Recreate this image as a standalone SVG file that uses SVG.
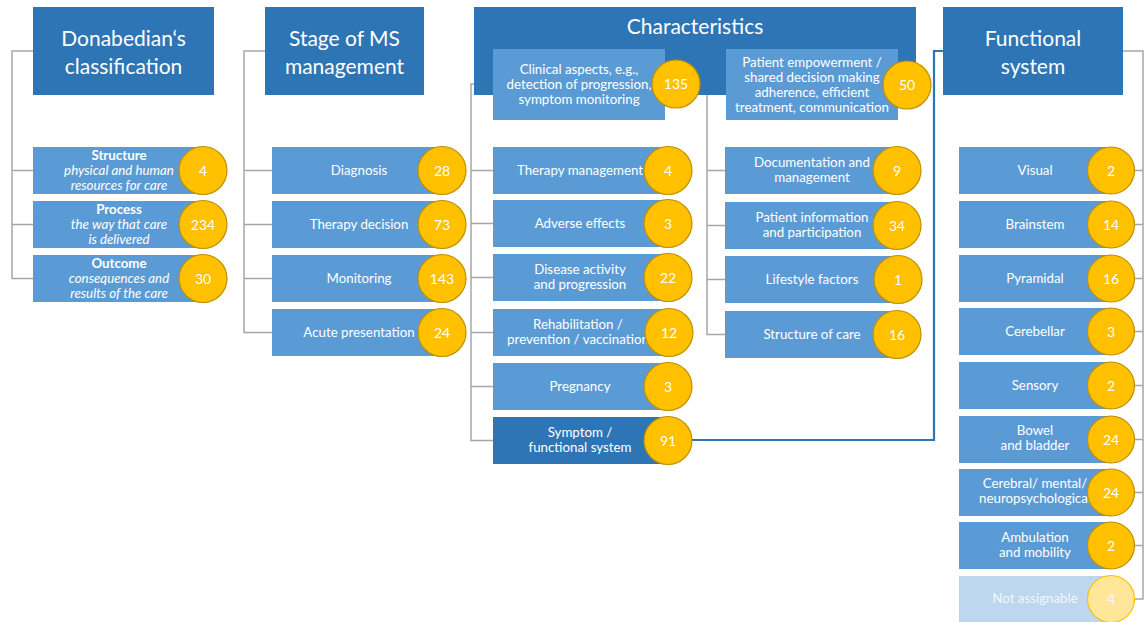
<svg xmlns="http://www.w3.org/2000/svg" width="1148" height="622" viewBox="0 0 1148 622">
  <style>
    .hdr { fill: #2E75B6; }
    .box { fill: #5B9BD5; }
    .box-dark { fill: #2E75B6; }
    .box-faint { fill: #BDD7EE; }
    .num { fill: #FFC000; stroke: #BF9000; stroke-width: 1.2; }
    .num-faint { fill: #FFE699; stroke: #FFC000; stroke-width: 1.2; }
    .conn { fill: none; stroke: #A6A6A6; stroke-width: 1.5; }
    .link { fill: none; stroke: #2E75B6; stroke-width: 2.2; }
    text { font-family: Lato, "Open Sans", "Liberation Sans", sans-serif; fill: #FFFFFF; text-anchor: middle; }
    .h { font-size: 21px; }
    .t { font-size: 13.3px; }
    .n { font-size: 14px; }
    .b { font-weight: bold; }
    .i { font-style: italic; }
    .faint { fill: #F2F7FC; }
  </style>

  <!-- connectors -->
  <g id="connectors">
    <!-- Donabedian tree -->
    <path class="conn" d="M33,51 H12 V278.5 H33 M12,170.5 H33 M12,224.5 H33"/>
    <!-- Stage tree -->
    <path class="conn" d="M265,51 H244 V332.5 H272 M244,170.5 H272 M244,224.5 H272 M244,278.5 H272"/>
    <!-- Clinical aspects tree -->
    <path class="conn" d="M493,84 H471 V440.5 H493 M471,170.5 H493 M471,223.5 H493 M471,277.5 H493 M471,332.5 H493 M471,386.5 H493"/>
    <!-- Patient empowerment tree -->
    <path class="conn" d="M726,84 H707 V334.5 H725 M707,170.5 H725 M707,225.5 H725 M707,279.5 H725"/>
    <!-- Functional system tree -->
    <path class="conn" d="M1123,51 H1143 V599 H1110 M1143,170.5 H1110 M1143,224.5 H1110 M1143,278.5 H1110 M1143,331.5 H1110 M1143,385.5 H1110 M1143,439.5 H1110 M1143,492.5 H1110 M1143,545.5 H1110"/>
    <!-- Symptom to functional system -->
    <path class="link" d="M690,440 H934 V51 H943"/>
  </g>

  <!-- column 1: Donabedian -->
  <g id="donabedian">
    <rect class="hdr" x="33" y="7" width="181" height="88"/>
    <text class="h" x="123.5" y="46">Donabedian‘s</text>
    <text class="h" x="123.5" y="74">classification</text>
  </g>
  <g id="structure">
    <rect class="box" x="33" y="147" width="172" height="47"/>
    <text class="t b" x="119" y="159.5">Structure</text>
    <text class="t i" x="119" y="174.5">physical and human</text>
    <text class="t i" x="119" y="189.5">resources for care</text>
    <circle class="num" cx="203" cy="170.5" r="24"/>
    <text class="n" x="203" y="175.5">4</text>
  </g>
  <g id="process">
    <rect class="box" x="33" y="201" width="172" height="47"/>
    <text class="t b" x="119" y="213.5">Process</text>
    <text class="t i" x="119" y="228.5">the way that care</text>
    <text class="t i" x="119" y="243.5">is delivered</text>
    <circle class="num" cx="203" cy="224.5" r="24"/>
    <text class="n" x="203" y="229.5">234</text>
  </g>
  <g id="outcome">
    <rect class="box" x="33" y="255" width="172" height="47"/>
    <text class="t b" x="119" y="267.5">Outcome</text>
    <text class="t i" x="119" y="282.5">consequences and</text>
    <text class="t i" x="119" y="297.5">results of the care</text>
    <circle class="num" cx="203" cy="278.5" r="24"/>
    <text class="n" x="203" y="283.5">30</text>
  </g>

  <!-- column 2: Stage of MS management -->
  <g id="stage">
    <rect class="hdr" x="265" y="7" width="159" height="88"/>
    <text class="h" x="344.5" y="46">Stage of MS</text>
    <text class="h" x="344.5" y="74">management</text>
  </g>
  <g id="diagnosis">
    <rect class="box" x="272" y="147" width="175" height="47"/>
    <text class="t" x="359" y="175">Diagnosis</text>
    <circle class="num" cx="442" cy="170.5" r="24"/>
    <text class="n" x="442" y="175.5">28</text>
  </g>
  <g id="therapy-decision">
    <rect class="box" x="272" y="201" width="175" height="47"/>
    <text class="t" x="359" y="229">Therapy decision</text>
    <circle class="num" cx="442" cy="224.5" r="24"/>
    <text class="n" x="442" y="229.5">73</text>
  </g>
  <g id="monitoring">
    <rect class="box" x="272" y="255" width="175" height="47"/>
    <text class="t" x="359" y="283">Monitoring</text>
    <circle class="num" cx="442" cy="278.5" r="24"/>
    <text class="n" x="442" y="283.5">143</text>
  </g>
  <g id="acute-presentation">
    <rect class="box" x="272" y="309" width="175" height="47"/>
    <text class="t" x="359" y="337">Acute presentation</text>
    <circle class="num" cx="442" cy="332.5" r="24"/>
    <text class="n" x="442" y="337.5">24</text>
  </g>

  <!-- column 3: Characteristics -->
  <g id="characteristics">
    <rect class="hdr" x="474" y="7" width="442" height="88"/>
    <text class="h" x="695" y="34">Characteristics</text>
  </g>
  <g id="clinical-aspects">
    <rect class="box" x="493" y="49" width="172" height="71"/>
    <text class="t" x="579" y="74">Clinical aspects, e.g.,</text>
    <text class="t" x="579" y="89">detection of progression,</text>
    <text class="t" x="579" y="104">symptom monitoring</text>
    <circle class="num" cx="676" cy="84" r="24"/>
    <text class="n" x="676" y="89">135</text>
  </g>
  <g id="patient-empowerment">
    <rect class="box" x="726" y="49" width="172" height="71"/>
    <text class="t" x="812" y="66.5">Patient empowerment /</text>
    <text class="t" x="812" y="81.5">shared decision making</text>
    <text class="t" x="812" y="96.5">adherence, efficient</text>
    <text class="t" x="812" y="111.5">treatment, communication</text>
    <circle class="num" cx="907" cy="85" r="24"/>
    <text class="n" x="907" y="90">50</text>
  </g>

  <g id="therapy-management">
    <rect class="box" x="493" y="147" width="174" height="47"/>
    <text class="t" x="580" y="175">Therapy management</text>
    <circle class="num" cx="668" cy="170.5" r="24"/>
    <text class="n" x="668" y="175.5">4</text>
  </g>
  <g id="adverse-effects">
    <rect class="box" x="493" y="200" width="174" height="47"/>
    <text class="t" x="580" y="228">Adverse effects</text>
    <circle class="num" cx="668" cy="223.5" r="24"/>
    <text class="n" x="668" y="228.5">3</text>
  </g>
  <g id="disease-activity">
    <rect class="box" x="493" y="254" width="174" height="47"/>
    <text class="t" x="580" y="274">Disease activity</text>
    <text class="t" x="580" y="289">and progression</text>
    <circle class="num" cx="668" cy="277.5" r="24"/>
    <text class="n" x="668" y="282.5">22</text>
  </g>
  <g id="rehabilitation">
    <rect class="box" x="493" y="309" width="174" height="47"/>
    <text class="t" x="578" y="329">Rehabilitation /</text>
    <text class="t" x="578" y="344">prevention / vaccination</text>
    <circle class="num" cx="669" cy="332.5" r="24"/>
    <text class="n" x="669" y="337.5">12</text>
  </g>
  <g id="pregnancy">
    <rect class="box" x="493" y="363" width="174" height="47"/>
    <text class="t" x="580" y="391">Pregnancy</text>
    <circle class="num" cx="668" cy="386.5" r="24"/>
    <text class="n" x="668" y="391.5">3</text>
  </g>
  <g id="symptom-functional">
    <rect class="box-dark" x="493" y="417" width="174" height="47"/>
    <text class="t" x="580" y="437">Symptom /</text>
    <text class="t" x="580" y="452">functional system</text>
    <circle class="num" cx="668" cy="440.5" r="24"/>
    <text class="n" x="668" y="445.5">91</text>
  </g>

  <g id="documentation">
    <rect class="box" x="725" y="147" width="173" height="47"/>
    <text class="t" x="812" y="167">Documentation and</text>
    <text class="t" x="812" y="182">management</text>
    <circle class="num" cx="897" cy="170.5" r="24"/>
    <text class="n" x="897" y="175.5">9</text>
  </g>
  <g id="patient-information">
    <rect class="box" x="725" y="202" width="173" height="47"/>
    <text class="t" x="812" y="222">Patient information</text>
    <text class="t" x="812" y="237">and participation</text>
    <circle class="num" cx="897" cy="225.5" r="24"/>
    <text class="n" x="897" y="230.5">34</text>
  </g>
  <g id="lifestyle">
    <rect class="box" x="725" y="256" width="173" height="47"/>
    <text class="t" x="812" y="284">Lifestyle factors</text>
    <circle class="num" cx="898" cy="279.5" r="24"/>
    <text class="n" x="898" y="284.5">1</text>
  </g>
  <g id="structure-of-care">
    <rect class="box" x="725" y="311" width="173" height="47"/>
    <text class="t" x="812" y="339">Structure of care</text>
    <circle class="num" cx="897" cy="334.5" r="24"/>
    <text class="n" x="897" y="339.5">16</text>
  </g>

  <!-- column 4: Functional system -->
  <g id="functional-system">
    <rect class="hdr" x="943" y="7" width="180" height="88"/>
    <text class="h" x="1033" y="46">Functional</text>
    <text class="h" x="1033" y="74">system</text>
  </g>
  <g id="visual">
    <rect class="box" x="959" y="147" width="151" height="47"/>
    <text class="t" x="1035" y="175">Visual</text>
    <circle class="num" cx="1111" cy="170.5" r="23.5"/>
    <text class="n" x="1111" y="175.5">2</text>
  </g>
  <g id="brainstem">
    <rect class="box" x="959" y="201" width="151" height="47"/>
    <text class="t" x="1035" y="229">Brainstem</text>
    <circle class="num" cx="1111" cy="224.5" r="23.5"/>
    <text class="n" x="1111" y="229.5">14</text>
  </g>
  <g id="pyramidal">
    <rect class="box" x="959" y="255" width="151" height="47"/>
    <text class="t" x="1035" y="283">Pyramidal</text>
    <circle class="num" cx="1111" cy="278.5" r="23.5"/>
    <text class="n" x="1111" y="283.5">16</text>
  </g>
  <g id="cerebellar">
    <rect class="box" x="959" y="308" width="151" height="47"/>
    <text class="t" x="1035" y="336">Cerebellar</text>
    <circle class="num" cx="1111" cy="331.5" r="23.5"/>
    <text class="n" x="1111" y="336.5">3</text>
  </g>
  <g id="sensory">
    <rect class="box" x="959" y="362" width="151" height="47"/>
    <text class="t" x="1035" y="390">Sensory</text>
    <circle class="num" cx="1111" cy="385.5" r="23.5"/>
    <text class="n" x="1111" y="390.5">2</text>
  </g>
  <g id="bowel-bladder">
    <rect class="box" x="959" y="416" width="151" height="47"/>
    <text class="t" x="1035" y="435">Bowel</text>
    <text class="t" x="1035" y="450">and bladder</text>
    <circle class="num" cx="1111" cy="439.5" r="23.5"/>
    <text class="n" x="1111" y="444.5">24</text>
  </g>
  <g id="cerebral">
    <rect class="box" x="959" y="469" width="151" height="47"/>
    <text class="t" x="1035" y="488">Cerebral/ mental/</text>
    <text class="t" x="1035" y="503">neuropsychological</text>
    <circle class="num" cx="1111" cy="492.5" r="23.5"/>
    <text class="n" x="1111" y="497.5">24</text>
  </g>
  <g id="ambulation">
    <rect class="box" x="959" y="522" width="151" height="47"/>
    <text class="t" x="1035" y="542">Ambulation</text>
    <text class="t" x="1035" y="557">and mobility</text>
    <circle class="num" cx="1111" cy="545.5" r="23.5"/>
    <text class="n" x="1111" y="550.5">2</text>
  </g>
  <g id="not-assignable">
    <rect class="box-faint" x="959" y="576" width="151" height="46"/>
    <text class="t faint" x="1035" y="603">Not assignable</text>
    <circle class="num-faint" cx="1111" cy="599" r="23.5"/>
    <text class="n faint" x="1111" y="604">4</text>
  </g>
</svg>
